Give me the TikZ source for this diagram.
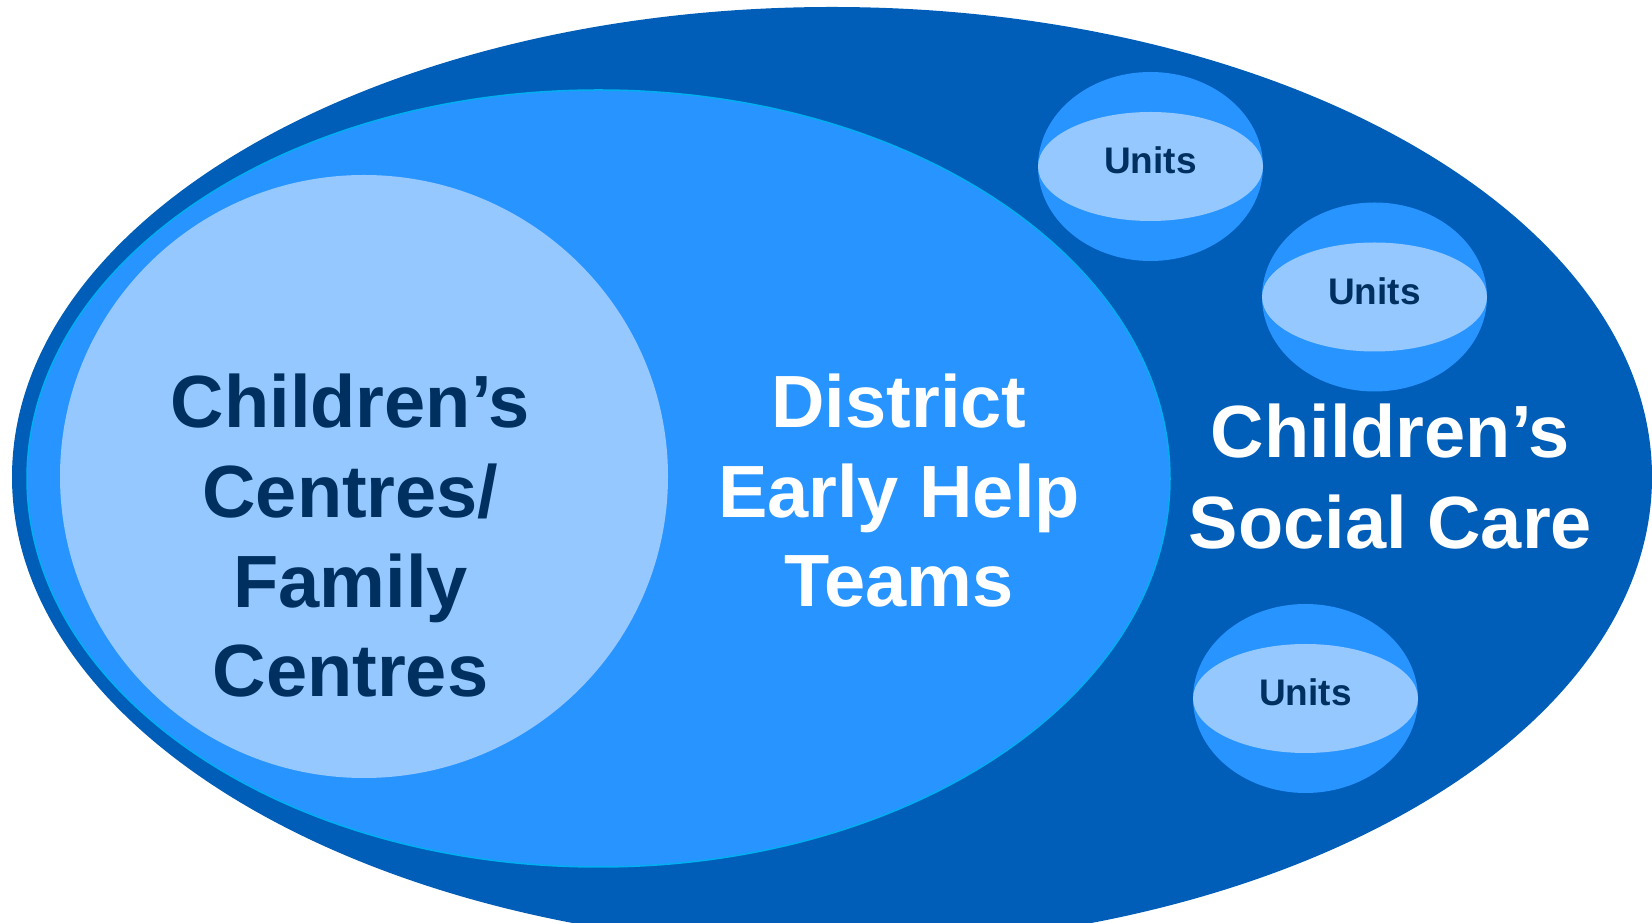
\documentclass[tikz,border=0pt]{standalone}
\usepackage{fontspec}
\setmainfont{Liberation Sans}
\definecolor{outerblue}{RGB}{0,94,184}
\definecolor{midblue}{RGB}{40,148,255}
\definecolor{lightblue}{RGB}{148,200,255}
\definecolor{navytext}{RGB}{0,48,95}
\definecolor{rimcyan}{RGB}{0,176,240}
\tikzset{
  bigtext/.style={inner sep=0pt, anchor=base, font=\fontsize{74}{88}\selectfont\bfseries},
  unittext/.style={inner sep=0pt, anchor=base, font=\fontsize{37}{44}\selectfont\bfseries, text=navytext},
}
\begin{document}
\begin{tikzpicture}[x=1pt,y=1pt]
\useasboundingbox (0,0) rectangle (1652,923);
\begin{scope}
\clip (0,0) rectangle (1652,923);
% Children's Social Care (outer)
\fill[outerblue] (832,446) ellipse [x radius=820, y radius=470];
% District Early Help Teams
\filldraw[fill=midblue, draw=rimcyan, line width=1.5pt] (598.5,444.5) ellipse [x radius=571.5, y radius=388.5];
% Children's Centres / Family Centres
\fill[lightblue] (364,446.5) ellipse [x radius=304, y radius=301.5];
% Units
\fill[midblue] (1150.5,756.5) ellipse [x radius=112.5, y radius=94.5];
\fill[lightblue] (1150.5,756.5) ellipse [x radius=112.5, y radius=54.5];
\fill[midblue] (1374.5,626) ellipse [x radius=112.5, y radius=94.5];
\fill[lightblue] (1374.5,626) ellipse [x radius=112.5, y radius=54.5];
\fill[midblue] (1305.5,224.5) ellipse [x radius=112.5, y radius=94.5];
\fill[lightblue] (1305.5,224.5) ellipse [x radius=112.5, y radius=54.5];
\end{scope}
% texts
\node[bigtext, text=navytext] (cc1) at (350.5,495) {Children’s};
\node[bigtext, text=navytext] (cc2) at (350.5,405) {Centres/};
\node[bigtext, text=navytext] (cc3) at (350.5,315) {Family};
\node[bigtext, text=navytext] (cc4) at (350.5,226) {Centres};
\node[bigtext, text=white] (dt1) at (899,495) {District};
\node[bigtext, text=white] (dt2) at (899,405) {Early Help};
\node[bigtext, text=white] (dt3) at (899,316) {Teams};
\node[bigtext, text=white] (sc1) at (1390.5,465) {Children’s};
\node[bigtext, text=white] (sc2) at (1390.5,374) {Social Care};
\node[unittext] (u1) at (1150.5,749) {Units};
\node[unittext] (u2) at (1374.5,618.5) {Units};
\node[unittext] (u3) at (1305.5,217) {Units};
\end{tikzpicture}
\end{document}
